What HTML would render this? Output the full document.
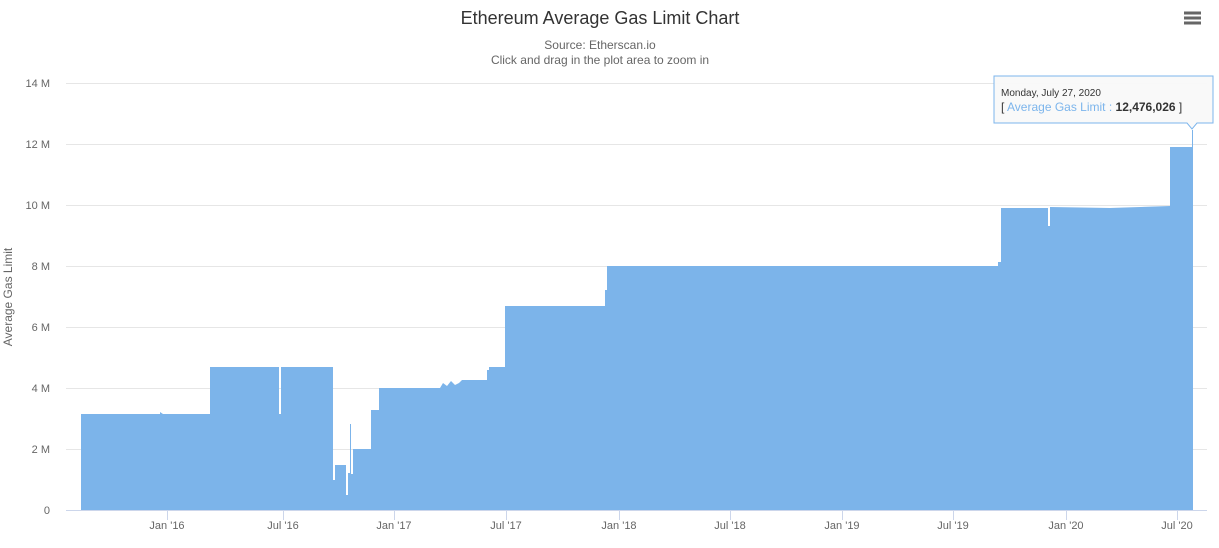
<!DOCTYPE html>
<html><head><meta charset="utf-8"><style>
body{margin:0;background:#fff;font-family:"Liberation Sans",sans-serif}
</style></head><body>
<svg width="1219" height="543" xmlns="http://www.w3.org/2000/svg" font-family="Liberation Sans, sans-serif">
<text x="600" y="24" text-anchor="middle" font-size="18" fill="#333">Ethereum Average Gas Limit Chart</text>
<text x="600" y="49" text-anchor="middle" font-size="12" fill="#666">Source: Etherscan.io</text>
<text x="600" y="64" text-anchor="middle" font-size="12" fill="#666">Click and drag in the plot area to zoom in</text>
<g stroke="#666" stroke-width="3"><line x1="1184" y1="13" x2="1201" y2="13"/><line x1="1184" y1="18" x2="1201" y2="18"/><line x1="1184" y1="23" x2="1201" y2="23"/></g>
<g stroke="#e6e6e6" stroke-width="1">
<line x1="66" y1="83.5" x2="1207" y2="83.5"/><line x1="66" y1="144.5" x2="1207" y2="144.5"/><line x1="66" y1="205.5" x2="1207" y2="205.5"/><line x1="66" y1="266.5" x2="1207" y2="266.5"/><line x1="66" y1="327.5" x2="1207" y2="327.5"/><line x1="66" y1="388.5" x2="1207" y2="388.5"/><line x1="66" y1="449.5" x2="1207" y2="449.5"/>
</g>
<g font-size="11" fill="#666" text-anchor="end">
<text x="50" y="87">14 M</text><text x="50" y="148">12 M</text><text x="50" y="209">10 M</text><text x="50" y="270">8 M</text><text x="50" y="331">6 M</text><text x="50" y="392">4 M</text><text x="50" y="453">2 M</text><text x="50" y="514">0</text>
</g>
<text transform="translate(12,297) rotate(-90)" text-anchor="middle" font-size="12" fill="#666">Average Gas Limit</text>
<path fill="#7cb4ea" d="M81,510 L81,414 L160,414 L160,412 L163,414 L210,414 L210,367 L279,367 L279,414 L281,414 L281,367 L333,367 L333,480 L335,480 L335,465 L346,465 L346,495 L348,495 L348,473 L350,473 L350,424 L351,424 L351,474 L353,474 L353,449 L371,449 L371,410 L379,410 L379,388 L440,388 L443,383 L447,386 L451,381 L455,385 L459,383 L462,380 L487,380 L487,370 L489,370 L489,367 L505,367 L505,306 L605,306 L605,290 L607,290 L607,266 L998,266 L998,262 L1001,262 L1001,208 L1048,208 L1048,226 L1050,226 L1050,207 L1110,208 L1170,206 L1170,147 L1192,147 L1192,130 L1193,130 L1193,510 Z"/>
<line x1="66" y1="510.5" x2="1207" y2="510.5" stroke="#ccd6eb"/>
<g stroke="#ccd6eb"><line x1="167.5" y1="510" x2="167.5" y2="520"/><line x1="283.5" y1="510" x2="283.5" y2="520"/><line x1="394.5" y1="510" x2="394.5" y2="520"/><line x1="506.5" y1="510" x2="506.5" y2="520"/><line x1="619.5" y1="510" x2="619.5" y2="520"/><line x1="730.5" y1="510" x2="730.5" y2="520"/><line x1="842.5" y1="510" x2="842.5" y2="520"/><line x1="953.5" y1="510" x2="953.5" y2="520"/><line x1="1066.5" y1="510" x2="1066.5" y2="520"/><line x1="1177.5" y1="510" x2="1177.5" y2="520"/></g>
<g font-size="11" fill="#666" text-anchor="middle">
<text x="167" y="529">Jan '16</text><text x="283" y="529">Jul '16</text><text x="394" y="529">Jan '17</text><text x="506" y="529">Jul '17</text><text x="619" y="529">Jan '18</text><text x="730" y="529">Jul '18</text><text x="842" y="529">Jan '19</text><text x="953" y="529">Jul '19</text><text x="1066" y="529">Jan '20</text><text x="1177" y="529">Jul '20</text>
</g>
<path d="M994,76 L1213,76 L1213,123 L1197,123 L1192,129 L1187,123 L994,123 Z" fill="#f9f9f9" fill-opacity="0.95" stroke="#7cb5ec"/>
<text x="1001" y="96" font-size="10" fill="#333">Monday, July 27, 2020</text>
<text x="1001" y="111" font-size="12" fill="#333">[ <tspan fill="#7cb5ec">Average Gas Limit : </tspan><tspan font-weight="bold">12,476,026</tspan> ]</text>
</svg>
</body></html>
